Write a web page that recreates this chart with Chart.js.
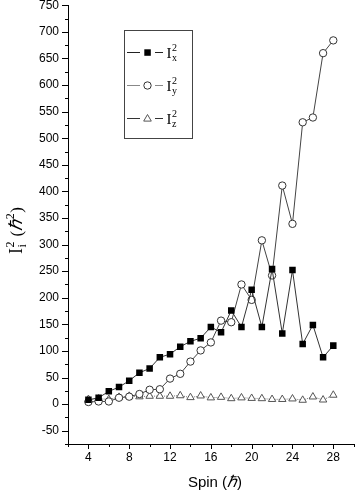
<!DOCTYPE html>
<html>
<head>
<meta charset="utf-8">
<script src="https://cdn.jsdelivr.net/npm/chart.js@4/dist/chart.umd.min.js"></script>
<style>
  body { margin: 0; background: #fff; }
  #wrap { position: relative; width: 359px; height: 495px; }
</style>
</head>
<body>
<div id="wrap"><canvas id="myChart"></canvas></div>
<script>
// spin values (hbar)
const spins = [4, 5, 6, 7, 8, 9, 10, 11, 12, 13, 14, 15, 16, 17, 18, 19, 20, 21, 22, 23, 24, 25, 26, 27, 28];
// I_x^2, I_y^2, I_z^2 (hbar^2)
const ix2 = [8, 12, 24, 32, 44, 59, 67, 88, 94, 108, 118, 124, 145, 135, 176, 145, 215, 145, 254, 133, 252, 113, 149, 88, 110];
const iy2 = [4, 5, 5, 12, 14, 19, 27, 28, 48, 57, 80, 101, 116, 157, 154, 225, 196, 308, 242, 411, 339, 530, 539, 660, 684];
const iz2 = [9, 10, 9, 13, 15, 14, 15, 15, 15, 16, 12.5, 15.6, 12, 13, 10.5, 12, 11, 10.5, 9, 9, 10, 7.5, 13.7, 8, 17];
// axis ticks
const xTicks = [4, 8, 12, 16, 20, 24, 28];
const yTicks = [-50, 0, 50, 100, 150, 200, 250, 300, 350, 400, 450, 500, 550, 600, 650, 700, 750];

const toXY = (arr) => arr.map((v, i) => ({ x: spins[i], y: v }));

const SANS = "'Liberation Sans', Arial, sans-serif";
const SERIF = "'Liberation Serif', 'Times New Roman', serif";

// draw I with stacked sub/superscript, returns end x
function drawI(ctx, x, y, sub, size) {
  ctx.font = size + "px " + SERIF;
  ctx.fillText("I", x, y);
  let w = ctx.measureText("I").width;
  const s = Math.round(size * 0.68);
  ctx.font = s + "px " + SERIF;
  ctx.fillText("2", x + w + 0.5, y - size * 0.42);
  ctx.fillText(sub, x + w + 0.5, y + size * 0.2);
  return x + w + 0.5 + Math.max(ctx.measureText("2").width, ctx.measureText(sub).width);
}

function marker(ctx, style, x, y) {
  ctx.save();
  ctx.lineWidth = 1;
  ctx.beginPath();
  if (style === "rect") {
    ctx.fillStyle = "#000";
    ctx.rect(x - 3.2, y - 3.2, 6.5, 6.5);
    ctx.fill();
  } else if (style === "circle") {
    ctx.fillStyle = "#fff";
    ctx.strokeStyle = "#333";
    ctx.arc(x, y, 3.7, 0, Math.PI * 2);
    ctx.fill();
    ctx.stroke();
  } else {
    ctx.fillStyle = "#fff";
    ctx.strokeStyle = "#555";
    ctx.moveTo(x, y - 4);
    ctx.lineTo(x + 3.8, y + 2.6);
    ctx.lineTo(x - 3.8, y + 2.6);
    ctx.closePath();
    ctx.fill();
    ctx.stroke();
  }
  ctx.restore();
}

const decor = {
  id: "decor",
  afterDraw(chart) {
    const ctx = chart.ctx;
    const xs = chart.scales.x, ys = chart.scales.y;
    ctx.save();
    ctx.strokeStyle = "#000";
    ctx.lineWidth = 1;
    // tick marks (major + minor)
    ctx.beginPath();
    for (let v = -75; v <= 750; v += 25) {
      const p = Math.round(ys.getPixelForValue(v)) + 0.5;
      const len = v % 50 === 0 ? 6 : 3;
      ctx.moveTo(xs.left, p);
      ctx.lineTo(xs.left - len, p);
    }
    for (let v = 2; v <= 30; v += 2) {
      const p = Math.round(xs.getPixelForValue(v)) + 0.5;
      const len = v % 4 === 0 ? 5 : 3;
      ctx.moveTo(p, ys.bottom);
      ctx.lineTo(p, ys.bottom + len);
    }
    ctx.stroke();

    ctx.fillStyle = "#000";
    ctx.textBaseline = "alphabetic";
    // x title: Spin (hbar)
    ctx.font = "15px " + SANS;
    let t1 = "Spin (";
    let w1 = ctx.measureText(t1).width;
    ctx.font = "italic 16px " + SERIF;
    let wh = ctx.measureText("\u210F").width;
    ctx.font = "15px " + SANS;
    let w2 = ctx.measureText(")").width;
    let x0 = 215 - (w1 + wh + w2) / 2;
    const by = 487;
    ctx.fillText(t1, x0, by);
    ctx.font = "italic 16px " + SERIF;
    ctx.fillText("\u210F", x0 + w1, by);
    ctx.font = "15px " + SANS;
    ctx.fillText(")", x0 + w1 + wh, by);

    // y title: I_i^2 (hbar^2), rotated
    ctx.save();
    ctx.translate(22, 254);
    ctx.rotate(-Math.PI / 2);
    let cx = drawI(ctx, 0, 0, "i", 18);
    cx += 5;
    ctx.font = "17px " + SERIF;
    ctx.fillText("(", cx, 0);
    cx += ctx.measureText("(").width;
    ctx.font = "italic 18px " + SERIF;
    ctx.fillText("\u210F", cx, 0);
    cx += ctx.measureText("\u210F").width;
    ctx.font = "12px " + SERIF;
    ctx.fillText("2", cx + 0.5, -8);
    cx += ctx.measureText("2").width + 1;
    ctx.font = "17px " + SERIF;
    ctx.fillText(")", cx, 0);
    ctx.restore();

    // legend box
    ctx.strokeStyle = "#444";
    ctx.strokeRect(124.5, 30.5, 68, 108);
    const rows = [
      { y: 52.5, style: "rect", sub: "x", color: "#222", dash: [] },
      { y: 85.5, style: "circle", sub: "y", color: "#888", dash: [] },
      { y: 118.5, style: "triangle", sub: "z", color: "#333", dash: [] }
    ];
    rows.forEach((r) => {
      ctx.strokeStyle = r.color;
      ctx.setLineDash(r.dash);
      ctx.beginPath();
      ctx.moveTo(127, r.y);
      ctx.lineTo(140, r.y);
      ctx.moveTo(155, r.y);
      ctx.lineTo(163, r.y);
      ctx.stroke();
      marker(ctx, r.style, 147.5, r.y);
      ctx.fillStyle = "#000";
      drawI(ctx, 166.5, r.y + 5, r.sub, 15);
    });
    ctx.restore();
  }
};

const ctx = document.getElementById("myChart").getContext("2d");
const myChart = new Chart(ctx, {
  type: "line",
  data: {
    datasets: [
      {
        label: "Ix2",
        data: toXY(ix2),
        borderColor: "#333",
        borderWidth: 1,
        pointStyle: "rect",
        pointRadius: 4.6,
        pointBackgroundColor: "#000",
        pointBorderColor: "#000",
        pointBorderWidth: 0,
        tension: 0,
      },
      {
        label: "Iy2",
        data: toXY(iy2),
        borderColor: "#444",
        borderWidth: 1,
        pointStyle: "circle",
        pointRadius: 3.7,
        pointBackgroundColor: "#fff",
        pointBorderColor: "#333",
        pointBorderWidth: 1,
        tension: 0,
      },
      {
        label: "Iz2",
        data: toXY(iz2),
        borderColor: "#777",
        borderWidth: 1,
        borderDash: [1, 1],
        pointStyle: "triangle",
        pointRadius: 4.3,
        pointBackgroundColor: "#fff",
        pointBorderColor: "#555",
        pointBorderWidth: 1,
        tension: 0,
      },
    ],
  },
  options: {
    responsive: true,
    maintainAspectRatio: false,
    animation: false,
    layout: { padding: { top: 5, right: 1, left: 0, bottom: 0 } },
    plugins: {
      legend: { display: false },
      tooltip: { enabled: false },
    },
    scales: {
      x: {
        type: "linear",
        min: 2,
        max: 30,
        afterBuildTicks: (scale) => {
          scale.ticks = xTicks.map((v) => ({ value: v }));
        },
        ticks: {
          autoSkip: false,
          maxRotation: 0,
          padding: 6,
          color: "#000",
          font: { family: SANS, size: 12 },
        },
        grid: { display: false, drawTicks: false },
        border: { display: true, color: "#000", width: 1 },
        afterFit: (scale) => {
          scale.height = 51;
          scale.paddingLeft = 0;
          scale.paddingRight = 0;
        },
      },
      y: {
        min: -75,
        max: 750,
        afterBuildTicks: (scale) => {
          scale.ticks = yTicks.map((v) => ({ value: v }));
        },
        ticks: {
          autoSkip: false,
          padding: 9,
          color: "#000",
          font: { family: SANS, size: 12 },
        },
        grid: { display: false, drawTicks: false },
        border: { display: true, color: "#000", width: 1 },
        afterFit: (scale) => {
          scale.width = 68;
          scale.paddingTop = 0;
          scale.paddingBottom = 0;
        },
      },
    },
  },
  plugins: [decor],
});
</script>
</body>
</html>
